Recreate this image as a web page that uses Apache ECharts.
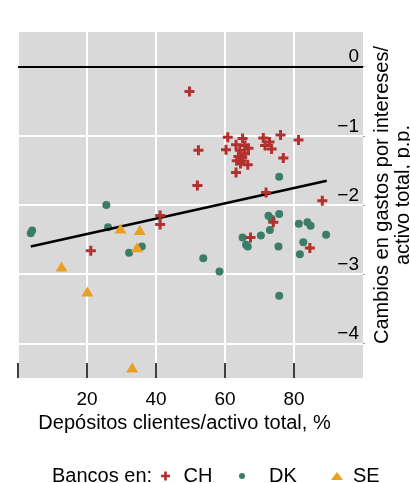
<!DOCTYPE html>
<html><head><meta charset="utf-8">
<script src="https://cdn.jsdelivr.net/npm/echarts@6/dist/echarts.min.js"></script>
<style>html,body{margin:0;padding:0;background:#fff}#c{width:410px;height:483px}</style>
</head><body><div id="c"></div>
<script>
// Data
const chData = [
  [49.7,-0.36],[52.3,-1.21],[52.0,-1.72],[60.8,-1.02],[60.3,-1.20],[65.1,-1.04],
  [63.2,-1.13],[65.8,-1.14],[66.8,-1.18],[64.3,-1.21],[65.8,-1.26],[63.9,-1.30],
  [63.4,-1.36],[64.8,-1.36],[66.6,-1.42],[63.2,-1.53],[64.5,-1.40],[65.0,-1.31],
  [71.1,-1.03],[72.9,-1.09],[71.6,-1.14],[73.5,-1.19],[76.1,-0.99],[76.9,-1.32],
  [81.3,-1.06],[71.9,-1.82],[88.2,-1.94],[41.2,-2.15],[41.2,-2.28],[21.1,-2.66],
  [74.0,-2.25],[67.4,-2.47],[84.6,-2.62]
];
const dkData = [
  [4.1,-2.37],[3.7,-2.41],[25.6,-2.00],[26.1,-2.32],[32.2,-2.69],[35.9,-2.60],
  [53.7,-2.77],[58.4,-2.96],[65.1,-2.47],[66.1,-2.575],[66.6,-2.60],[70.4,-2.44],
  [72.6,-2.155],[73.5,-2.20],[75.7,-2.13],[73.0,-2.36],[75.5,-2.60],[75.7,-1.59],
  [81.4,-2.27],[83.9,-2.25],[84.8,-2.30],[89.3,-2.43],[82.7,-2.54],[81.7,-2.71],
  [75.7,-3.31]
];
const seData = [
  [29.7,-2.34],[35.3,-2.36],[34.5,-2.61],[12.6,-2.89],[20.1,-3.25],[33.1,-4.35]
];
const trendLine = [[3.7,-2.60],[89.5,-1.65]];
const zeroLineY = 0;
const xTicks = [0,20,40,60,80];
const xLabels = [20,40,60,80];
const yTicks = [-4,-3,-2,-1,0];
const seriesNames = ['CH','DK','SE'];

const FONT = '"Liberation Sans", Arial, sans-serif';
const crossPath = 'path://M3.5,0H6.5V3.5H10V6.5H6.5V10H3.5V6.5H0V3.5H3.5Z';
const triPath = 'path://M6,0L12,9H0Z';
const C_CH = '#b2302d', C_DK = '#3b7d68', C_SE = '#e8a11f';

const chart = echarts.init(document.getElementById('c'));
const txt = {fontSize:20, color:'#000', fontFamily:FONT};
chart.setOption({
  animation:false,
  textStyle:{fontFamily:FONT},
  grid:{left:18,right:47,top:32,bottom:105,show:true,backgroundColor:'#d9d9d9',borderWidth:0,outerBoundsMode:'none'},
  xAxis:{
    type:'value',min:0,max:100,
    axisLine:{show:false,onZero:false},
    axisTick:{show:true,inside:true,length:15,customValues:xTicks,lineStyle:{color:'#000',width:1.5}},
    axisLabel:{customValues:xLabels,margin:12,fontSize:19,color:'#000',fontFamily:FONT},
    splitLine:{show:true,lineStyle:{color:'#fff',width:2}},
    name:'Depósitos clientes/activo total, %',nameLocation:'middle',nameGap:35,
    nameTextStyle:Object.assign({padding:[0,12,0,0]},txt)
  },
  yAxis:{
    type:'value',position:'right',min:-4.5,max:0.5,
    axisLine:{show:false,onZero:false},
    axisTick:{show:true,length:2,customValues:yTicks,lineStyle:{color:'#999'}},
    axisLabel:{inside:true,customValues:yTicks,margin:4,verticalAlign:'bottom',padding:[0,0,0,0],
      fontSize:19,color:'#000',fontFamily:FONT,
      formatter:v=>v<0?'\u2212'+Math.abs(v):String(v)},
    splitLine:{show:true,lineStyle:{color:'#fff',width:2}},
    name:'Cambios en gastos por intereses/\nactivo total, p.p.',nameLocation:'middle',nameRotate:90,nameGap:6,
    nameTextStyle:Object.assign({lineHeight:21,align:'center',padding:[0,0,0,20]},txt)
  },
  graphic:[{type:'text',left:52,top:466,style:{text:'Bancos en:',fontSize:20,fill:'#000',fontFamily:FONT}}],
  legend:[
    {data:[{name:seriesNames[0],icon:crossPath}],left:156,top:461,itemWidth:26,itemHeight:9,textStyle:txt},
    {data:[{name:seriesNames[1],icon:'circle'}],left:234,top:461,itemWidth:44,itemHeight:6,textStyle:txt},
    {data:[{name:seriesNames[2],icon:'path://M6,0L12,8H0Z'}],left:326,top:461,itemWidth:22,itemHeight:8,textStyle:txt}
  ],
  series:[
    {name:seriesNames[1],type:'scatter',data:dkData,symbol:'circle',symbolSize:8,itemStyle:{color:C_DK,opacity:1},z:2},
    {type:'line',data:trendLine,symbol:'none',lineStyle:{color:'#000',width:2.5},z:3,silent:true,
      markLine:{silent:true,symbol:'none',label:{show:false},lineStyle:{color:'#000',width:2,type:'solid'},data:[{yAxis:zeroLineY}]}},
    {name:seriesNames[2],type:'scatter',data:seData,symbol:triPath,symbolSize:[12,10],itemStyle:{color:C_SE,opacity:1},z:4},
    {name:seriesNames[0],type:'scatter',data:chData,symbol:crossPath,symbolSize:10,itemStyle:{color:C_CH,opacity:1},z:5}
  ]
});
</script></body></html>
